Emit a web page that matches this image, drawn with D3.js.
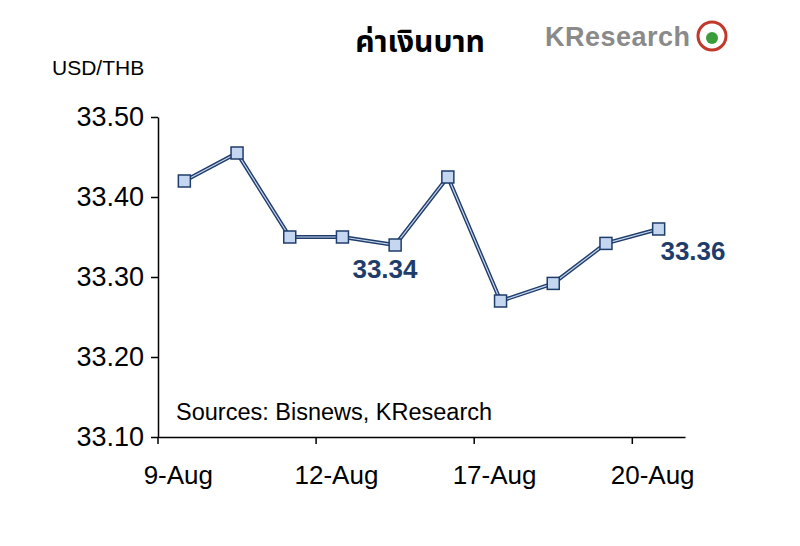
<!DOCTYPE html><html><head><meta charset="utf-8"><script src="https://cdn.jsdelivr.net/npm/d3@7"></script>
<style>body{margin:0;background:#fff}</style></head><body><svg id="c" width="800" height="546"></svg><script>
const categories=["9-Aug","10-Aug","11-Aug","12-Aug","13-Aug","16-Aug","17-Aug","18-Aug","19-Aug","20-Aug"];
const values=[33.42,33.455,33.35,33.35,33.34,33.425,33.27,33.292,33.342,33.36];
const yTicks=[33.10,33.20,33.30,33.40,33.50];
const xLabels=["9-Aug","12-Aug","17-Aug","20-Aug"];
const svg=d3.select("#c");
const L=158,R=685,T=117,B=437;
const x=d3.scaleBand().domain(categories).range([L,R]);
const y=d3.scaleLinear().domain([33.10,33.50]).range([B,T]);
const f="Liberation Sans, Arial, sans-serif";
const ya=svg.append("g").attr("transform",`translate(${L},0)`).call(d3.axisLeft(y).tickValues(yTicks).tickFormat(d3.format(".2f")).tickSize(7).tickSizeOuter(0));
ya.selectAll("text").attr("font-size",27).attr("font-family",f).attr("fill","#000").attr("dx",-4);
const xa=svg.append("g").attr("transform",`translate(0,${B})`).call(d3.axisBottom(x).tickValues([]).tickSizeOuter(0));
[0,3,6,9].forEach(i=>{const xx=L+i*x.bandwidth();xa.append("line").attr("x1",xx).attr("x2",xx).attr("y1",0).attr("y2",7);});
xa.selectAll("path,line").attr("stroke","#000").attr("stroke-width",1.5);ya.selectAll("path,line").attr("stroke","#000").attr("stroke-width",1.5);
xLabels.forEach(l=>{svg.append("text").attr("x",x(l)+x.bandwidth()/2-6).attr("y",B+47).attr("text-anchor","middle").attr("font-size",26).attr("font-family",f).text(l);});
const cx=d=>x(d)+x.bandwidth()/2;
const line=d3.line().x((d,i)=>cx(categories[i])).y(d=>y(d));
svg.append("path").attr("d",line(values)).attr("fill","none").attr("stroke","#1f3d6b").attr("stroke-width",4);
svg.append("path").attr("d",line(values)).attr("fill","none").attr("stroke","#c7d6ee").attr("stroke-width",1.2);
svg.selectAll("rect.m").data(values).join("rect").attr("x",(d,i)=>cx(categories[i])-6).attr("y",d=>y(d)-6).attr("width",12).attr("height",12).attr("fill","#c5d7f0").attr("stroke","#1f3d6b").attr("stroke-width",1.5);
svg.append("text").attr("x",385).attr("y",278).attr("text-anchor","middle").attr("font-size",26).attr("font-weight","bold").attr("font-family",f).attr("fill","#1f3d6b").text("33.34");
svg.append("text").attr("x",693).attr("y",260).attr("text-anchor","middle").attr("font-size",26).attr("font-weight","bold").attr("font-family",f).attr("fill","#1f3d6b").text("33.36");
svg.append("text").attr("x",176).attr("y",420).attr("font-size",23.5).attr("font-family",f).text("Sources: Bisnews, KResearch");
svg.append("text").attr("x",52).attr("y",75).attr("font-size",21).attr("font-family",f).text("USD/THB");
svg.append("text").attr("x",420).attr("y",52).attr("text-anchor","middle").attr("font-size",30).attr("font-weight","bold").attr("font-family","Noto Sans Thai, Noto Sans, DejaVu Sans, sans-serif").text("ค่าเงินบาท");
svg.append("text").attr("x",545).attr("y",46).attr("font-size",27).attr("font-weight","bold").attr("font-family",f).attr("fill","#8a8a8a").attr("textLength",145).text("KResearch");
svg.append("circle").attr("cx",712).attr("cy",36).attr("r",14).attr("fill","#fff").attr("stroke","#c0392b").attr("stroke-width",3);
svg.append("circle").attr("cx",712).attr("cy",38).attr("r",6).attr("fill","#3a9d3a");
</script></body></html>
